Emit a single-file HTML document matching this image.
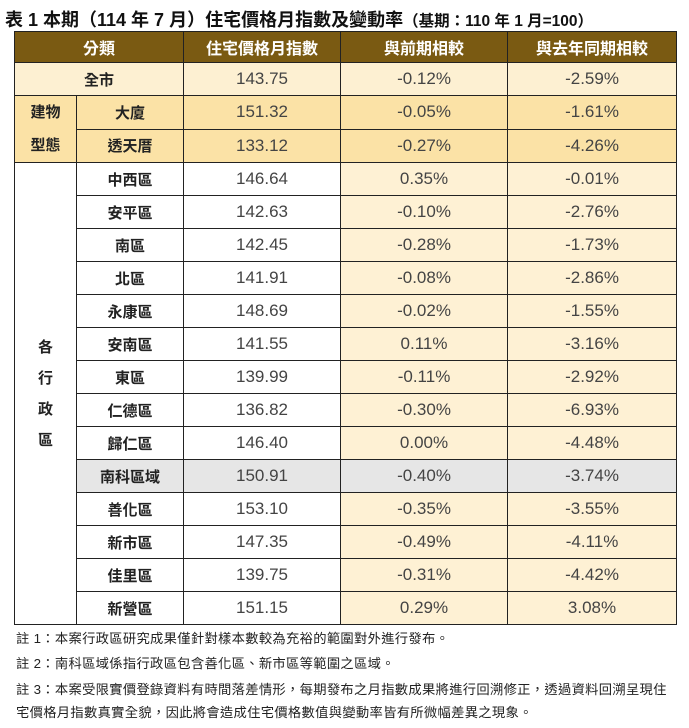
<!DOCTYPE html>
<html><head><meta charset="utf-8">
<style>
body{margin:0;background:#fff;width:689px;height:728px;overflow:hidden;font-family:"Liberation Sans","Noto Sans CJK TC",sans-serif;}
#title{position:absolute;left:5px;top:6px;font-size:18px;font-weight:bold;color:#111;white-space:nowrap;}
#title small{font-size:15.5px;}
table{position:absolute;left:14px;top:31px;border-collapse:collapse;table-layout:fixed;width:662px;}
td,th{border:1px solid #222;text-align:center;padding:0;height:32px;font-size:17px;color:#444;}
th{background:#7a5a12;color:#fff;font-size:16px;height:30px;}
td.n{font-weight:bold;color:#222;font-size:15px;}
tr.all td{background:#fdf0d2;}
tr.bt td{background:#fbe2a6;}
td.pc{background:#fef1d4;}
td.w{background:#fff;}
tr.g td.gr{background:#e6e6e6;}
.note{position:absolute;left:16px;font-size:13.3px;color:#222;white-space:nowrap;letter-spacing:0.3px;}
</style></head><body>
<div id="title">表 1 本期（114 年 7 月）住宅價格月指數及變動率<small>（基期：110 年 1 月=100）</small></div>
<table>
<colgroup><col style="width:62px"><col style="width:107px"><col style="width:157px"><col style="width:167px"><col style="width:169px"></colgroup>
<tr><th colspan="2">分類</th><th>住宅價格月指數</th><th>與前期相較</th><th>與去年同期相較</th></tr>
<tr class="all"><td colspan="2" class="n">全市</td><td>143.75</td><td>-0.12%</td><td>-2.59%</td></tr>
<tr class="bt"><td rowspan="2" class="n" style="line-height:33px">建物<br>型態</td><td class="n">大廈</td><td>151.32</td><td>-0.05%</td><td>-1.61%</td></tr>
<tr class="bt"><td class="n">透天厝</td><td>133.12</td><td>-0.27%</td><td>-4.26%</td></tr>
<tr><td rowspan="14" class="n w" style="line-height:31px">各<br>行<br>政<br>區</td><td class="n w">中西區</td><td class="w">146.64</td><td class="pc">0.35%</td><td class="pc">-0.01%</td></tr>
<tr><td class="n w">安平區</td><td class="w">142.63</td><td class="pc">-0.10%</td><td class="pc">-2.76%</td></tr>
<tr><td class="n w">南區</td><td class="w">142.45</td><td class="pc">-0.28%</td><td class="pc">-1.73%</td></tr>
<tr><td class="n w">北區</td><td class="w">141.91</td><td class="pc">-0.08%</td><td class="pc">-2.86%</td></tr>
<tr><td class="n w">永康區</td><td class="w">148.69</td><td class="pc">-0.02%</td><td class="pc">-1.55%</td></tr>
<tr><td class="n w">安南區</td><td class="w">141.55</td><td class="pc">0.11%</td><td class="pc">-3.16%</td></tr>
<tr><td class="n w">東區</td><td class="w">139.99</td><td class="pc">-0.11%</td><td class="pc">-2.92%</td></tr>
<tr><td class="n w">仁德區</td><td class="w">136.82</td><td class="pc">-0.30%</td><td class="pc">-6.93%</td></tr>
<tr><td class="n w">歸仁區</td><td class="w">146.40</td><td class="pc">0.00%</td><td class="pc">-4.48%</td></tr>
<tr class="g"><td class="n gr">南科區域</td><td class="gr">150.91</td><td class="gr">-0.40%</td><td class="gr">-3.74%</td></tr>
<tr><td class="n w">善化區</td><td class="w">153.10</td><td class="pc">-0.35%</td><td class="pc">-3.55%</td></tr>
<tr><td class="n w">新市區</td><td class="w">147.35</td><td class="pc">-0.49%</td><td class="pc">-4.11%</td></tr>
<tr><td class="n w">佳里區</td><td class="w">139.75</td><td class="pc">-0.31%</td><td class="pc">-4.42%</td></tr>
<tr><td class="n w">新營區</td><td class="w">151.15</td><td class="pc">0.29%</td><td class="pc">3.08%</td></tr>
</table>
<div class="note" style="top:628px">註 1：本案行政區研究成果僅針對樣本數較為充裕的範圍對外進行發布。</div>
<div class="note" style="top:653px">註 2：南科區域係指行政區包含善化區、新市區等範圍之區域。</div>
<div class="note" style="top:679px">註 3：本案受限實價登錄資料有時間落差情形，每期發布之月指數成果將進行回溯修正，透過資料回溯呈現住</div>
<div class="note" style="top:702px">宅價格月指數真實全貌，因此將會造成住宅價格數值與變動率皆有所微幅差異之現象。</div>
</body></html>
